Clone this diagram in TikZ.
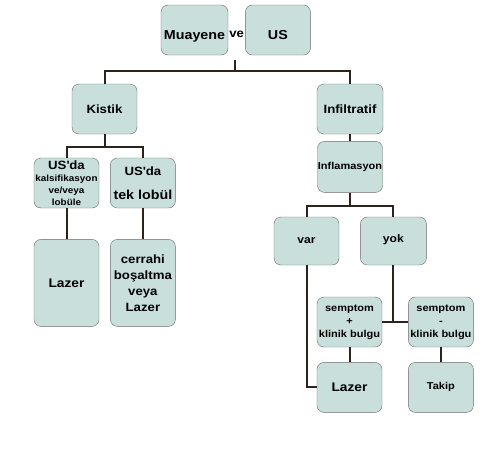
\documentclass[tikz,border=0pt]{standalone}
\usepackage{fontspec}
\setmainfont{Liberation Sans}[FakeStretch=1.1]
\usetikzlibrary{positioning}
\definecolor{boxFill}{RGB}{200,223,219}
\definecolor{boxLine}{RGB}{105,105,105}
\definecolor{linkInk}{RGB}{45,35,30}
\newcommand{\fsz}[1]{\bfseries\fontsize{#1}{16}\selectfont}
\tikzset{
  box/.style={draw=boxLine, fill=boxFill, rounded corners=7pt, align=center, inner sep=0pt, minimum width=65pt, minimum height=50pt, font=\fsz{12}},
  tallbox/.style={box, minimum height=87pt},
  smallbox/.style={box, minimum height=48pt, font=\fsz{11}},
  topbox/.style={box, font=\fsz{13}, text height=19pt, text depth=1pt},
  plain/.style={inner sep=1pt, font=\fsz{12}},
  link/.style={draw=linkInk, line width=2pt}
}
\begin{document}
\begin{tikzpicture}[x=1pt, y=-1pt]
  \useasboundingbox (0,0) rectangle (500,450);
  % top
  \node[topbox, minimum width=67pt] (muayene) at (194.5,30) {Muayene};
  \node[topbox, right=17pt of muayene] (us) {US};
  \node[plain, right=0pt of muayene, yshift=-4pt] (ve) {ve};
  \coordinate (vebase) at (235,60);
  \coordinate (topjoin) at (235,71);
  % level 2
  \node[box] (kistik) at (104.5,109) {Kistik};
  \node[box, minimum width=66pt] (infil) at (350,109) {Infiltratif};
  \node[box, below=7pt of infil, minimum height=51pt, font=\fsz{10}] (inflam) {Inflamasyon};
  % kistik branch
  \node[box] (kals) at (66.5,183) {US\textquotesingle da\\[-4pt]{\fsz{9}kalsifikasyon}\\[-4pt]{\fsz{9}ve/veya}\\[-4pt]{\fsz{9}lobüle}};
  \node[box, right=11pt of kals] (tek) {US\textquotesingle da\\[8pt]{\fsz{13}tek lobül}};
  \node[tallbox, below=31pt of kals, font=\fsz{12.5}] (lazerL) {Lazer};
  \node[tallbox, below=31pt of tek] (cerrahi) {cerrahi\\boşaltma\\veya\\Lazer};
  \coordinate[below=13pt of kistik] (kjoin);
  % infiltratif branch
  \node[smallbox] (var) at (306.5,241) {var};
  \node[smallbox, right=21pt of var, minimum width=66pt] (yok) {\raisebox{5pt}{yok}};
  \coordinate[below=13pt of inflam] (ijoin);
  \node[box, font=\bfseries\fontsize{10}{13}\selectfont] (splus) at (349.5,322) {semptom\\+\\klinik bulgu};
  \node[box, right=26pt of splus, font=\bfseries\fontsize{10}{13}\selectfont] (sminus) {semptom\\-\\klinik bulgu};
  \node[box, below=15pt of splus, font=\fsz{12.5}] (lazerR) {Lazer};
  \node[box, below=15pt of sminus, font=\fsz{10}] (takip) {Takip};
  % connectors
  \draw[link] (vebase) -- (topjoin);
  \draw[link] (kistik.north) |- (topjoin) -| (infil.north);
  \draw[link] (kistik) -- (kjoin);
  \draw[link] (kals.north) |- (kjoin) -| (tek.north);
  \draw[link] (kals) -- (lazerL);
  \draw[link] (tek) -- (cerrahi);
  \draw[link] (infil) -- (inflam);
  \draw[link] (inflam) -- (ijoin);
  \draw[link] (var.north) |- (ijoin) -| (yok.north);
  \draw[link] (yok.south) -- (yok.south |- splus.east);
  \draw[link] (splus) -- (sminus);
  \draw[link] (var.south) |- (lazerR.west);
  \draw[link] (splus) -- (lazerR);
  \draw[link] (sminus) -- (takip);
\end{tikzpicture}
\end{document}
